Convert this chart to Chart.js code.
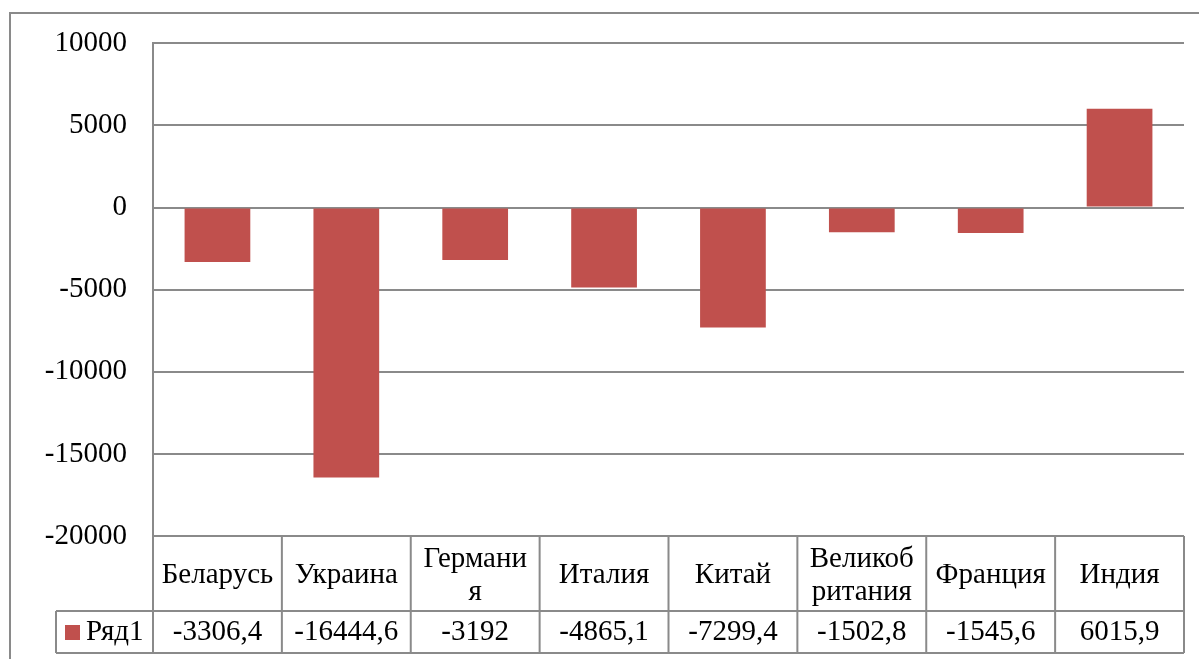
<!DOCTYPE html>
<html>
<head>
<meta charset="utf-8">
<script src="https://cdn.jsdelivr.net/npm/chart.js@4"></script>
<style>
  html, body { margin: 0; padding: 0; background: #fff; }
</style>
</head>
<body>
<canvas id="grafico" width="1199" height="659"></canvas>
<script>
// Dados
const categorias = [['Беларусь'], ['Украина'], ['Германи', 'я'], ['Италия'], ['Китай'], ['Великоб', 'ритания'], ['Франция'], ['Индия']];
const valores = [-3306.4, -16444.6, -3192, -4865.1, -7299.4, -1502.8, -1545.6, 6015.9];
const serieNome = 'Ряд1';
const yTicks = [10000, 5000, 0, -5000, -10000, -15000, -20000];

const COR_BARRA = '#C0504D';
const COR_LINHA = '#8a8a8a';
const FONTE = "'Liberation Serif', serif";
const TAM = 29;

const fmt = v => String(v).replace('.', ',');

// Tabela de dados embaixo do gráfico (estilo Excel)
const tabelaPlugin = {
  id: 'tabela',
  afterDraw(chart) {
    const { ctx, chartArea: a, scales: { x } } = chart;
    const yCat = a.bottom, yVal = a.bottom + 75, yFim = a.bottom + 117;
    const xLeg = 56;
    const n = categorias.length;

    // bordas das colunas a partir da escala x
    const bordas = [a.left];
    for (let i = 0; i < n - 1; i++) {
      bordas.push((x.getPixelForValue(i) + x.getPixelForValue(i + 1)) / 2);
    }
    bordas.push(a.right);

    ctx.save();
    ctx.strokeStyle = COR_LINHA;
    ctx.lineWidth = 2;

    // moldura externa
    ctx.strokeRect(10, 13, chart.width + 10, chart.height + 10);

    ctx.beginPath();
    ctx.moveTo(a.left, yCat); ctx.lineTo(a.right, yCat);
    ctx.moveTo(xLeg, yVal); ctx.lineTo(a.right, yVal);
    ctx.moveTo(xLeg, yFim); ctx.lineTo(a.right, yFim);
    bordas.forEach(bx => { ctx.moveTo(bx, yCat); ctx.lineTo(bx, yFim); });
    ctx.moveTo(xLeg, yVal); ctx.lineTo(xLeg, yFim);
    ctx.stroke();

    ctx.fillStyle = '#000';
    ctx.font = TAM + 'px ' + FONTE;
    ctx.textAlign = 'center';
    ctx.textBaseline = 'middle';
    const meioCat = (yCat + yVal) / 2 + 2;
    const meioVal = (yVal + yFim) / 2;
    const altLinha = 33;

    categorias.forEach((linhas, i) => {
      const cx = x.getPixelForValue(i);
      const y0 = meioCat - (linhas.length - 1) * altLinha / 2;
      linhas.forEach((t, k) => ctx.fillText(t, cx, y0 + k * altLinha));
      ctx.fillText(fmt(valores[i]), cx, meioVal);
    });

    // legenda
    ctx.fillStyle = COR_BARRA;
    ctx.fillRect(65, meioVal - 7, 15, 15);
    ctx.fillStyle = '#000';
    ctx.textAlign = 'left';
    ctx.fillText(serieNome, 86, meioVal);
    ctx.restore();
  }
};

function desenhar() {
  new Chart(document.getElementById('grafico'), {
    type: 'bar',
    data: {
      labels: categorias.map(c => c.join('')),
      datasets: [{
        label: serieNome,
        data: valores,
        backgroundColor: COR_BARRA,
        borderWidth: 0,
        categoryPercentage: 1,
        barPercentage: 0.51
      }]
    },
    options: {
      responsive: false,
      animation: false,
      layout: { padding: { left: 10, top: 42, right: 15, bottom: 123 } },
      plugins: {
        legend: { display: false },
        tooltip: { enabled: false }
      },
      scales: {
        x: { display: false },
        y: {
          min: Math.min(...yTicks),
          max: Math.max(...yTicks),
          afterFit: s => { s.width = 143; },
          ticks: {
            stepSize: yTicks[0] - yTicks[1],
            padding: 26,
            color: '#000',
            font: { family: FONTE, size: TAM },
            callback: v => String(v)
          },
          grid: { color: COR_LINHA, lineWidth: 2, drawTicks: false },
          border: { color: COR_LINHA, width: 2 }
        }
      }
    },
    plugins: [tabelaPlugin]
  });
}

// garante a fonte antes de desenhar no canvas
document.fonts.load(TAM + 'px ' + FONTE).then(desenhar, desenhar);
</script>
</body>
</html>
